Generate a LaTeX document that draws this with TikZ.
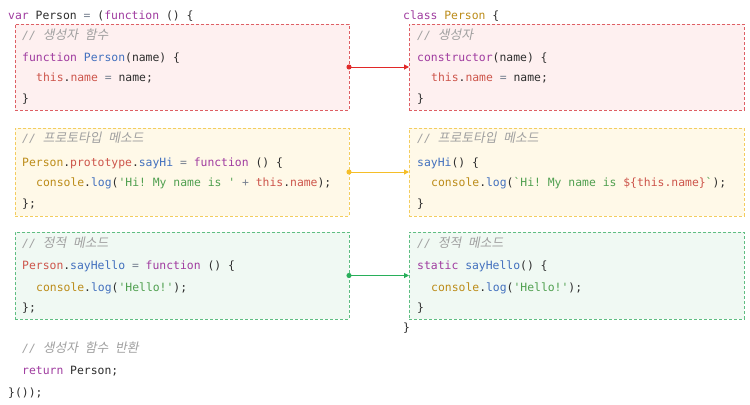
\documentclass[tikz,border=0pt]{standalone}
\usepackage{fontspec}
\setmonofont{DejaVu Sans Mono}
\newfontfamily\krfont[FakeSlant=0.2,Scale=1.12]{Noto Sans CJK KR}
\usetikzlibrary{arrows.meta}
\definecolor{ckwc}{RGB}{160,60,160}
\definecolor{cfnc}{RGB}{66,112,190}
\definecolor{cgdc}{RGB}{188,140,25}
\definecolor{cprc}{RGB}{205,85,75}
\definecolor{cstrc}{RGB}{80,160,80}
\definecolor{cmtc}{RGB}{160,160,160}
\definecolor{copc}{RGB}{120,130,145}
\definecolor{ctxt}{RGB}{45,45,45}
\definecolor{redfill}{RGB}{254,240,240}
\definecolor{redline}{RGB}{222,95,100}
\definecolor{redarrow}{RGB}{225,40,40}
\definecolor{yelfill}{RGB}{255,249,232}
\definecolor{yelline}{RGB}{243,205,95}
\definecolor{yelarrow}{RGB}{245,190,40}
\definecolor{grnfill}{RGB}{240,249,243}
\definecolor{grnline}{RGB}{95,190,130}
\definecolor{grnarrow}{RGB}{40,175,90}
\newcommand\ckw[1]{\textcolor{ckwc}{#1}}
\newcommand\cfn[1]{\textcolor{cfnc}{#1}}
\newcommand\cgd[1]{\textcolor{cgdc}{#1}}
\newcommand\cpr[1]{\textcolor{cprc}{#1}}
\newcommand\cstr[1]{\textcolor{cstrc}{#1}}
\newcommand\cop[1]{\textcolor{copc}{#1}}
\newcommand\ckr[1]{{\krfont #1}}
\newcommand\ccm[1]{\textcolor{cmtc}{\itshape// #1}}
\tikzset{
  code/.style={anchor=base west, inner sep=0pt, text=ctxt,
    font=\ttfamily\fontsize{11.4bp}{13bp}\selectfont},
  box/.style={draw, dash pattern=on 3bp off 2bp, line width=1bp,
    anchor=north west, inner sep=0pt, outer sep=0pt, minimum height=86bp},
  lbox/.style={box, minimum width=334bp},
  rbox/.style={box, minimum width=335bp},
  conn/.style={line width=1bp, {Circle[length=5bp]}-{Triangle[length=5bp,width=5bp]},
    shorten <=-2.5bp}
}
\begin{document}
\begin{tikzpicture}[x=1bp,y=-1bp]
\useasboundingbox[fill=white] (0,0) rectangle (750,404);
% boxes
\node[lbox, draw=redline, fill=redfill] (rL) at (15,24) {};
\node[rbox, draw=redline, fill=redfill] (rR) at (409,24) {};
\node[lbox, draw=yelline, fill=yelfill, minimum height=88bp] (yL) at (15,128) {};
\node[rbox, draw=yelline, fill=yelfill, minimum height=88bp] (yR) at (409,128) {};
\node[lbox, draw=grnline, fill=grnfill, minimum height=87bp] (gL) at (15,232) {};
\node[rbox, draw=grnline, fill=grnfill, minimum height=87bp] (gR) at (409,232) {};
% connectors
\draw[conn, redarrow] (rL.east) -- (rR.west);
\draw[conn, yelarrow] (yL.east) -- (yR.west);
\draw[conn, grnarrow] (gL.east) -- (gR.west);
% left code
\node[code] (l0) at (8,19) {\ckw{var} Person \cop{=} (\ckw{function} () \{};
\node[code] (l1) at (22,39) {\ccm{\ckr{생성자} \ckr{함수}}};
\node[code] (l2) at (22,61) {\ckw{function} \cfn{Person}(name) \{};
\node[code] (l3) at (36,81) {\cpr{this}.\cpr{name} \cop{=} name;};
\node[code] (l4) at (22,102) {\}};
\node[code] (l5) at (22,142) {\ccm{\ckr{프로토타입} \ckr{메소드}}};
\node[code] (l6) at (22,166) {\cgd{Person}.\cpr{prototype}.\cfn{sayHi} \cop{=} \ckw{function} () \{};
\node[code] (l7) at (36,186) {\cgd{console}.\cfn{log}(\cstr{'Hi! My name is '} \cop{+} \cpr{this}.\cpr{name});};
\node[code] (l8) at (22,207) {\};};
\node[code] (l9) at (22,247) {\ccm{\ckr{정적} \ckr{메소드}}};
\node[code] (l10) at (22,269) {\cpr{Person}.\cfn{sayHello} \cop{=} \ckw{function} () \{};
\node[code] (l11) at (36,291) {\cgd{console}.\cfn{log}(\cstr{'Hello!'});};
\node[code] (l12) at (22,311) {\};};
\node[code] (l13) at (22,352) {\ccm{\ckr{생성자} \ckr{함수} \ckr{반환}}};
\node[code] (l14) at (22,374) {\ckw{return} Person;};
\node[code] (l15) at (8,396) {\}());};
% right code
\node[code] (r0) at (403,19) {\ckw{class} \cgd{Person} \{};
\node[code] (r1) at (417,39) {\ccm{\ckr{생성자}}};
\node[code] (r2) at (417,61) {\ckw{constructor}(name) \{};
\node[code] (r3) at (431,81) {\cpr{this}.\cpr{name} \cop{=} name;};
\node[code] (r4) at (417,102) {\}};
\node[code] (r5) at (417,142) {\ccm{\ckr{프로토타입} \ckr{메소드}}};
\node[code] (r6) at (417,166) {\cfn{sayHi}() \{};
\node[code] (r7) at (431,186) {\cgd{console}.\cfn{log}(\cstr{`Hi! My name is }\cpr{\$\{this.name\}}\cstr{`});};
\node[code] (r8) at (417,207) {\}};
\node[code] (r9) at (417,247) {\ccm{\ckr{정적} \ckr{메소드}}};
\node[code] (r10) at (417,269) {\ckw{static} \cfn{sayHello}() \{};
\node[code] (r11) at (431,291) {\cgd{console}.\cfn{log}(\cstr{'Hello!'});};
\node[code] (r12) at (417,311) {\}};
\node[code] (r13) at (403,331) {\}};
\end{tikzpicture}
\end{document}
